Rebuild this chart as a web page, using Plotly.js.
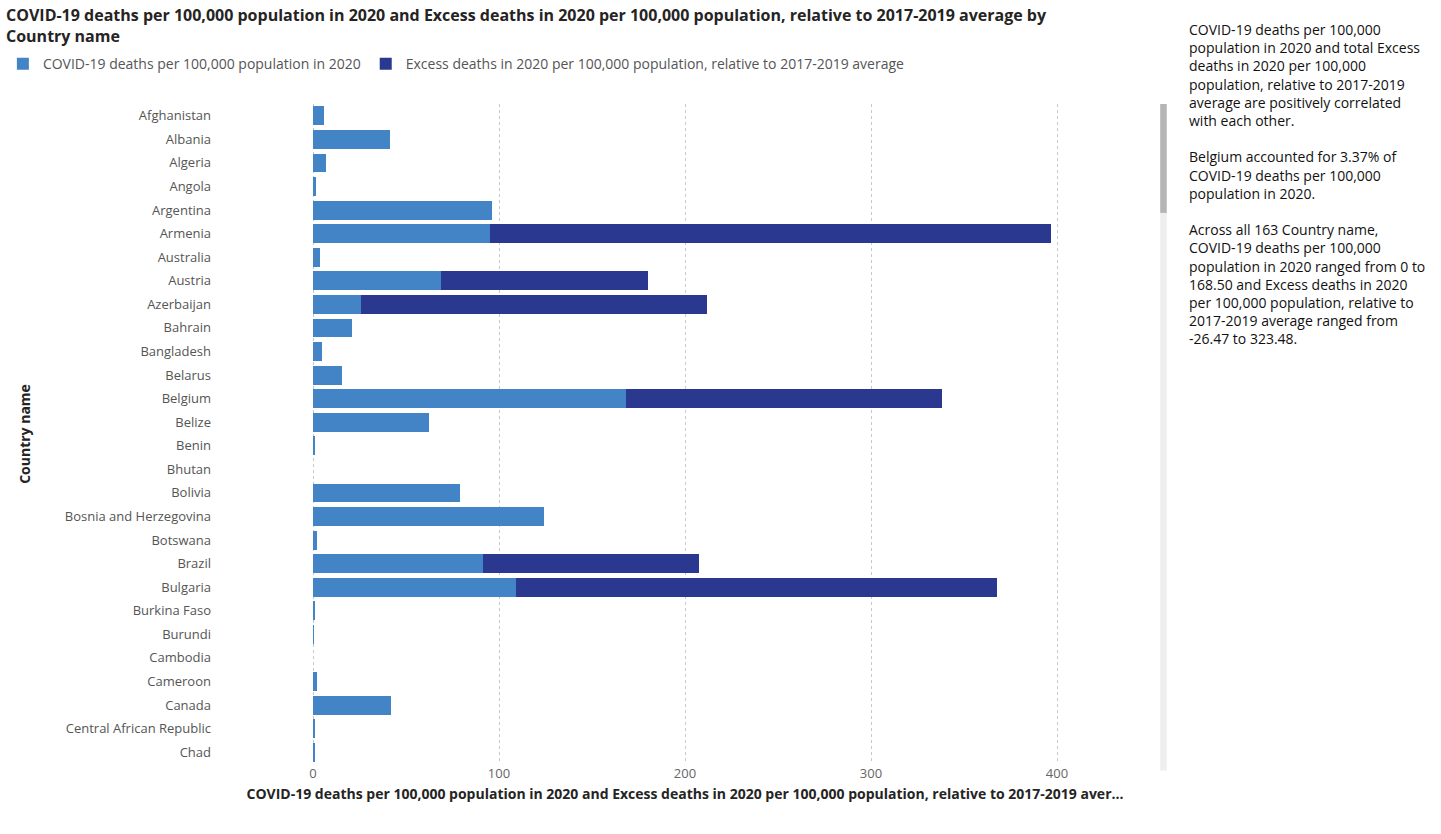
<!DOCTYPE html>
<html>
<head>
<meta charset="utf-8">
<script src="https://cdn.plot.ly/plotly-3.0.1.min.js"></script>
<style>
body{margin:0;background:#fff;}
#chart{width:1441px;height:834px;}
</style>
</head>
<body>
<div id="chart"></div>
<script>
var countries = ['Afghanistan','Albania','Algeria','Angola','Argentina','Armenia','Australia','Austria',
  'Azerbaijan','Bahrain','Bangladesh','Belarus','Belgium','Belize','Benin','Bhutan','Bolivia',
  'Bosnia and Herzegovina','Botswana','Brazil','Bulgaria','Burkina Faso','Burundi','Cambodia',
  'Cameroon','Canada','Central African Republic','Chad'];
var covidDeaths = [6,41.5,7,1.5,96,95,4,69,26,21,5,15.6,168.5,62.5,1,0,79,124,2,91.6,109,0.8,0.3,0,2,42,1.3,0.9];
var excessDeaths = [0,0,0,0,0,302,0,111,186,0,0,0,169.5,0,0,0,0,0,0,116,259,0,0,0,0,0,0,0];

var fnt = 'Segoe UI, "Open Sans", sans-serif';
var traces = [
  {type:'bar', orientation:'h', y:countries, x:covidDeaths, name:'COVID-19 deaths per 100,000 population in 2020',
   marker:{color:'#4384C6'}},
  {type:'bar', orientation:'h', y:countries, x:excessDeaths, name:'Excess deaths in 2020 per 100,000 population, relative to 2017-2019 average',
   marker:{color:'#2A3890'}}
];

var sideText = 'COVID-19 deaths per 100,000<br>population in 2020 and total Excess<br>deaths in 2020 per 100,000<br>population, relative to 2017-2019<br>average are positively correlated<br>with each other.<br><br>' +
  'Belgium accounted for 3.37% of<br>COVID-19 deaths per 100,000<br>population in 2020.<br><br>' +
  'Across all 163 Country name,<br>COVID-19 deaths per 100,000<br>population in 2020 ranged from 0 to<br>168.50 and Excess deaths in 2020<br>per 100,000 population, relative to<br>2017-2019 average ranged from<br>-26.47 to 323.48.';

var layout = {
  barmode:'stack',
  bargap:0.2,
  width:1441, height:834,
  margin:{l:220, r:291, t:104, b:70},
  paper_bgcolor:'#fff', plot_bgcolor:'#fff',
  font:{family:fnt, size:13, color:'#555'},
  showlegend:true,
  legend:{orientation:'h', xref:'container', x:0.002, yref:'container', y:0.923, yanchor:'middle',
    font:{size:14, color:'#555'}, traceorder:'normal', itemwidth:30},
  xaxis:{range:[-50,450], tickvals:[0,100,200,300,400], showgrid:true, gridcolor:'#c8c8c8', griddash:'dot',
    zeroline:false, tickfont:{size:13, color:'#666'},
    title:{text:'<b>COVID-19 deaths per 100,000 population in 2020 and Excess deaths in 2020 per 100,000 population, relative to 2017-2019 aver...</b>',
      font:{size:14, color:'#252423'}, standoff:8}},
  yaxis:{autorange:'reversed', tickfont:{size:13, color:'#555'}, ticklabelstandoff:8,
    title:{text:'<b>Country name</b>', font:{size:14, color:'#252423'}, standoff:30}},
  shapes:[
    {type:'rect', xref:'paper', yref:'paper', x0:1.011, x1:1.018, y0:-0.01, y1:1.0, fillcolor:'#eeeeee', line:{width:0}},
    {type:'rect', xref:'paper', yref:'paper', x0:1.011, x1:1.018, y0:0.835, y1:1.0, fillcolor:'#b5b5b5', line:{width:0}}
  ],
  annotations:[
    {xref:'paper', yref:'paper', x:1.04, y:1.13, xanchor:'left', yanchor:'top', align:'left',
     showarrow:false, text:sideText, font:{family:fnt, size:14, color:'#111'}},
    {xref:'paper', yref:'paper', x:-0.232, y:1.155, xanchor:'left', yanchor:'top', align:'left', showarrow:false,
     text:'<b>COVID-19 deaths per 100,000 population in 2020 and Excess deaths in 2020 per 100,000 population, relative to 2017-2019 average by<br>Country name</b>',
     font:{family:fnt, size:16, color:'#252423'}}
  ]
};

Plotly.newPlot('chart', traces, layout, {displayModeBar:false});
</script>
</body>
</html>
